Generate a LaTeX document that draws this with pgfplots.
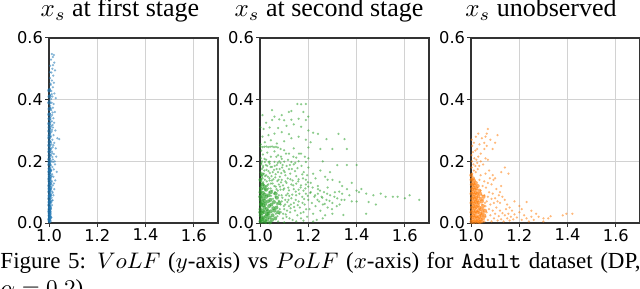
\documentclass[border=0pt]{standalone}
\usepackage{fontspec}
\setmainfont{Liberation Serif}
\newfontfamily\tickfont{DejaVu Sans}
\usepackage{pgfplots}
\pgfplotsset{compat=1.18}
\definecolor{c0}{HTML}{1F77B4}
\definecolor{c1}{HTML}{FF7F0E}
\definecolor{c2}{HTML}{2CA02C}
\pgfplotsset{
  panel/.style={
    scale only axis, width=67.6pt, height=74pt,
    xmin=1.0, xmax=1.7, ymin=0, ymax=0.6,
    xtick={1.0,1.2,1.4,1.6}, xticklabels={1.0,1.2,1.4,1.6},
    ytick={0,0.2,0.4,0.6}, yticklabels={0.0,0.2,0.4,0.6},
    tick pos=left, tick align=outside, major tick length=1.6pt,
    tick style={black!80, line width=0.4pt},
    grid=major, grid style={gray!35, line width=0.4pt},
    axis line style={black!80, line width=0.45pt},
    tick label style={font=\tickfont\fontsize{6.5}{7.5}\selectfont},
    /pgf/number format/assume math mode=true,
    yticklabel style={inner sep=0pt, xshift=-0.6pt},
    xticklabel style={inner sep=0pt, yshift=-0.6pt},
    anchor=south west,
  },
  scpts/.style={only marks, mark=*, color=#1, mark size=0.5pt, mark options={draw opacity=0, fill=#1, fill opacity=0.55}},
  sccore/.style={only marks, mark=*, color=#1, mark size=0.8pt, mark options={draw opacity=0, fill=#1, fill opacity=0.65}},
}
\begin{document}
\begin{tikzpicture}
\useasboundingbox (0,0) rectangle (256pt,115.2pt);
% ---------- panel 1 ----------
\begin{axis}[panel, at={(19.6pt,26pt)}]
\addplot[scpts=c0] coordinates {
(1.012,0.548)(1.02,0.545)(1.016,0.538)(1.008,0.53)(1.022,0.52)(1.005,0.51)(1.014,0.50)(1.025,0.495)(1.01,0.488)(1.018,0.478)(1.004,0.47)(1.012,0.462)(1.02,0.455)(1.007,0.448)(1.016,0.44)
(1.003,0.435)(1.01,0.428)(1.022,0.42)(1.006,0.415)(1.014,0.41)(1.028,0.405)(1.002,0.398)(1.011,0.39)(1.019,0.386)(1.005,0.38)(1.016,0.374)(1.009,0.366)(1.024,0.36)(1.003,0.355)(1.013,0.35)
(1.007,0.345)(1.018,0.34)(1.004,0.335)(1.012,0.33)(1.021,0.325)(1.002,0.32)(1.009,0.315)(1.016,0.31)(1.005,0.305)(1.026,0.3)(1.011,0.296)(1.003,0.29)(1.019,0.285)(1.008,0.28)(1.035,0.275)(1.042,0.272)(1.014,0.27)(1.004,0.265)(1.022,0.26)(1.01,0.255)
(1.002,0.25)(1.015,0.246)(1.028,0.242)(1.006,0.238)(1.012,0.232)(1.003,0.228)(1.02,0.224)(1.008,0.22)(1.03,0.215)(1.004,0.21)(1.016,0.206)(1.01,0.2)(1.002,0.196)(1.025,0.19)(1.007,0.186)(1.014,0.182)(1.003,0.178)(1.02,0.174)(1.009,0.17)(1.032,0.166)(1.005,0.162)(1.013,0.158)(1.002,0.154)
(1.018,0.15)(1.008,0.146)(1.004,0.142)(1.026,0.138)(1.012,0.134)(1.003,0.13)(1.007,0.126)(1.016,0.122)(1.002,0.118)(1.01,0.114)(1.022,0.11)(1.005,0.106)(1.013,0.102)(1.003,0.098)(1.008,0.094)(1.018,0.09)(1.002,0.086)(1.011,0.082)(1.006,0.078)(1.015,0.074)(1.003,0.07)(1.009,0.066)(1.002,0.062)(1.012,0.058)(1.005,0.054)
(1.002,0.05)(1.008,0.046)(1.004,0.042)(1.001,0.038)(1.006,0.034)(1.003,0.03)(1.001,0.026)(1.005,0.022)(1.002,0.018)(1.001,0.014)(1.003,0.01)(1.001,0.006)(1.002,0.003)
(1.006,0.292)(1.015,0.318)(1.009,0.402)(1.017,0.512)(1.004,0.489)(1.013,0.226)(1.006,0.19)(1.017,0.198)(1.01,0.138)(1.015,0.098)(1.007,0.11)(1.02,0.128)(1.024,0.2)(1.018,0.252)(1.008,0.262)
(1.006,0.452)(1.011,0.418)(1.007,0.372)(1.015,0.358)(1.006,0.328)(1.012,0.302)(1.009,0.242)(1.014,0.214)(1.006,0.172)(1.011,0.152)(1.009,0.118)(1.005,0.088)(1.012,0.072)(1.007,0.038)(1.01,0.018)
};
\addplot[sccore=c0] coordinates {
(1.001,0.012)(1.002,0.024)(1.001,0.037)(1.002,0.045)(1.001,0.058)(1.002,0.067)(1.001,0.079)(1.002,0.088)(1.001,0.101)(1.002,0.112)(1.001,0.121)(1.002,0.135)(1.001,0.143)(1.002,0.157)(1.001,0.166)(1.002,0.176)(1.001,0.189)(1.002,0.198)(1.001,0.207)(1.002,0.219)(1.001,0.231)(1.002,0.24)(1.001,0.252)(1.002,0.263)(1.001,0.276)(1.002,0.284)(1.001,0.298)(1.002,0.31)(1.001,0.322)(1.002,0.338)(1.001,0.352)(1.002,0.37)(1.001,0.39)(1.002,0.41)(1.001,0.43)
(1.003,0.006)(1.004,0.018)(1.003,0.03)(1.004,0.05)(1.003,0.07)(1.004,0.09)(1.003,0.108)(1.004,0.128)(1.003,0.15)(1.004,0.17)
};
\end{axis}
% ---------- panel 2 ----------
\begin{axis}[panel, at={(104pt,26pt)}]
\addplot[sccore=c2] coordinates {
(1.002,0.005)(1.006,0.012)(1.01,0.004)(1.015,0.018)(1.003,0.025)(1.02,0.008)(1.008,0.032)(1.025,0.022)(1.012,0.04)(1.002,0.045)(1.03,0.012)(1.018,0.05)(1.005,0.058)(1.035,0.03)(1.022,0.062)(1.01,0.068)(1.04,0.018)(1.028,0.045)(1.003,0.075)(1.015,0.08)(1.045,0.038)(1.033,0.07)(1.007,0.088)(1.02,0.092)(1.05,0.01)(1.038,0.055)(1.012,0.098)(1.026,0.085)(1.055,0.048)(1.043,0.075)(1.002,0.1)(1.017,0.035)(1.009,0.015)(1.024,0.003)(1.032,0.038)(1.004,0.062)(1.047,0.06)(1.052,0.025)(1.06,0.04)(1.058,0.068)(1.036,0.09)(1.014,0.058)(1.029,0.028)(1.001,0.035)(1.001,0.085)(1.063,0.015)(1.068,0.05)(1.07,0.082)(1.041,0.002)(1.019,0.072)
(1.075,0.035)(1.08,0.065)(1.004,0.112)(1.01,0.125)(1.018,0.118)(1.002,0.14)(1.008,0.158)(1.025,0.108)(1.045,0.1)(1.065,0.095)
};
\addplot[scpts=c2] coordinates {
(1.002,0.248)(1.01,0.246)(1.018,0.247)(1.026,0.248)(1.034,0.246)(1.042,0.247)(1.05,0.248)(1.058,0.246)(1.066,0.247)(1.074,0.245)(1.085,0.24)(1.005,0.235)(1.03,0.228)(1.06,0.232)(1.1,0.236)(1.012,0.222)(1.045,0.215)(1.075,0.22)(1.12,0.225)(1.004,0.21)(1.025,0.205)(1.09,0.208)(1.15,0.212)(1.008,0.2)(1.02,0.198)(1.04,0.199)(1.06,0.198)(1.08,0.2)(1.1,0.199)(1.13,0.198)(1.16,0.2)(1.19,0.198)(1.17,0.225)(1.2,0.245)(1.14,0.242)
(1.003,0.255)(1.02,0.262)(1.045,0.268)(1.07,0.258)(1.1,0.265)(1.13,0.275)(1.16,0.28)(1.19,0.27)(1.21,0.262)(1.01,0.28)(1.035,0.285)(1.06,0.29)(1.09,0.295)(1.12,0.288)(1.2,0.3)(1.22,0.293)(1.24,0.289)(1.275,0.272)(1.325,0.289)(1.35,0.272)(1.015,0.305)(1.04,0.31)(1.075,0.308)(1.11,0.315)(1.14,0.32)(1.17,0.312)(1.025,0.325)(1.05,0.334)(1.08,0.336)(1.1,0.333)(1.13,0.335)(1.16,0.338)(1.19,0.334)(1.06,0.345)(1.09,0.35)(1.12,0.36)(1.13,0.363)(1.05,0.366)(1.155,0.386)(1.17,0.385)(1.19,0.386)(1.01,0.35)(1.002,0.31)(1.18,0.36)(1.2,0.345)
(1.002,0.105)(1.01,0.11)(1.022,0.108)(1.035,0.112)(1.05,0.105)(1.068,0.11)(1.085,0.108)(1.1,0.112)(1.12,0.106)(1.14,0.11)(1.16,0.108)(1.18,0.105)(1.005,0.12)(1.015,0.125)(1.03,0.122)(1.045,0.128)(1.06,0.12)(1.078,0.125)(1.095,0.122)(1.11,0.13)(1.13,0.125)(1.15,0.128)(1.17,0.122)(1.2,0.118)(1.003,0.135)(1.02,0.14)(1.04,0.138)(1.055,0.142)(1.072,0.136)(1.09,0.14)(1.115,0.145)(1.135,0.138)(1.16,0.142)(1.19,0.14)(1.008,0.15)(1.025,0.155)(1.048,0.152)(1.065,0.158)(1.082,0.15)(1.105,0.155)(1.125,0.16)(1.15,0.152)(1.175,0.158)(1.002,0.165)(1.018,0.17)(1.035,0.168)(1.058,0.172)(1.075,0.165)(1.098,0.17)(1.12,0.175)(1.145,0.168)(1.012,0.18)(1.03,0.185)(1.05,0.182)(1.07,0.188)(1.092,0.18)(1.11,0.185)(1.14,0.19)(1.005,0.19)(1.04,0.192)(1.085,0.195)(1.2,0.18)(1.22,0.16)(1.25,0.17)(1.21,0.13)(1.24,0.12)(1.23,0.145)(1.27,0.15)(1.3,0.14)(1.28,0.14)(1.33,0.133)(1.29,0.165)(1.32,0.188)(1.36,0.188)(1.4,0.188)(1.25,0.24)(1.3,0.24)(1.36,0.24)(1.26,0.2)(1.2,0.21)
(1.075,0.005)(1.08,0.03)(1.085,0.06)(1.09,0.09)(1.095,0.015)(1.1,0.045)(1.105,0.075)(1.11,0.02)(1.115,0.095)(1.12,0.055)(1.125,0.035)(1.13,0.08)(1.135,0.01)(1.14,0.065)(1.145,0.04)(1.15,0.09)(1.155,0.025)(1.16,0.07)(1.165,0.05)(1.17,0.015)(1.175,0.085)(1.18,0.035)(1.185,0.06)(1.19,0.095)(1.195,0.02)(1.2,0.075)(1.205,0.045)(1.21,0.1)(1.215,0.065)(1.22,0.03)(1.225,0.085)(1.23,0.055)(1.235,0.01)(1.24,0.095)(1.245,0.07)(1.25,0.04)(1.255,0.085)(1.26,0.06)(1.265,0.1)(1.27,0.025)(1.275,0.075)(1.28,0.05)(1.29,0.09)(1.3,0.065)(1.31,0.1)(1.32,0.08)(1.33,0.06)(1.34,0.095)(1.35,0.075)(1.36,0.11)(1.37,0.09)(1.38,0.07)(1.4,0.105)(1.41,0.1)(1.42,0.11)(1.44,0.095)(1.45,0.068)(1.47,0.09)(1.4,0.07)(1.44,0.03)(1.345,0.026)(1.5,0.095)(1.52,0.085)(1.55,0.085)(1.57,0.085)(1.6,0.08)(1.66,0.075)(1.62,0.09)(1.48,0.06)(1.3,0.03)(1.26,0.015)(1.22,0.005)(1.18,0.008)(1.28,0.115)(1.24,0.11)(1.19,0.125)(1.34,0.12)(1.38,0.13)(1.15,0.005)(1.1,0.002)
(1.004,0.142)(1.013,0.132)(1.027,0.118)(1.008,0.175)(1.024,0.188)(1.033,0.15)(1.041,0.162)(1.052,0.128)(1.063,0.148)(1.069,0.175)(1.077,0.14)(1.083,0.118)(1.088,0.162)(1.006,0.195)(1.016,0.16)(1.038,0.1)(1.062,0.1)(1.072,0.06)(1.078,0.09)(1.066,0.03)(1.082,0.045)(1.09,0.07)(1.096,0.03)(1.104,0.06)(1.108,0.09)(1.112,0.04)(1.118,0.075)(1.122,0.015)(1.128,0.06)(1.058,0.095)(1.064,0.085)(1.07,0.065)(1.046,0.088)(1.054,0.078)
(1.003,0.115)(1.007,0.128)(1.011,0.145)(1.016,0.112)(1.021,0.152)(1.028,0.135)(1.034,0.125)(1.039,0.145)(1.044,0.112)(1.049,0.138)(1.006,0.155)(1.013,0.185)(1.019,0.208)(1.027,0.172)(1.036,0.198)(1.044,0.182)(1.053,0.165)(1.061,0.185)(1.068,0.215)(1.074,0.195)(1.081,0.175)(1.087,0.215)(1.094,0.188)(1.102,0.165)(1.108,0.225)(1.116,0.205)(1.124,0.188)(1.132,0.175)(1.138,0.215)(1.146,0.195)(1.155,0.178)(1.162,0.225)(1.172,0.185)(1.181,0.165)(1.186,0.215)(1.195,0.155)(1.065,0.118)(1.073,0.105)(1.087,0.132)(1.097,0.108)(1.106,0.135)(1.117,0.115)(1.126,0.142)(1.138,0.122)(1.148,0.102)(1.158,0.135)(1.168,0.115)(1.178,0.145)(1.188,0.112)(1.198,0.132)(1.208,0.098)(1.218,0.115)(1.228,0.09)(1.238,0.075)(1.248,0.105)(1.258,0.082)(1.268,0.062)(1.278,0.095)(1.288,0.072)(1.298,0.045)(1.308,0.085)(1.318,0.055)(1.328,0.102)(1.338,0.075)(1.072,0.022)(1.078,0.072)(1.086,0.035)(1.093,0.082)(1.099,0.055)(1.107,0.028)(1.113,0.068)(1.121,0.088)(1.127,0.048)(1.134,0.092)(1.141,0.052)(1.148,0.075)(1.156,0.058)(1.163,0.095)(1.169,0.032)(1.176,0.065)(1.183,0.078)(1.191,0.045)(1.198,0.088)
};
\end{axis}
% ---------- panel 3 ----------
\begin{axis}[panel, at={(188.4pt,26pt)}]
\addplot[sccore=c1] coordinates {
(1.002,0.004)(1.006,0.01)(1.012,0.003)(1.018,0.008)(1.024,0.004)(1.03,0.006)(1.036,0.003)(1.003,0.02)(1.009,0.025)(1.015,0.018)(1.021,0.022)(1.027,0.016)(1.034,0.02)(1.04,0.012)(1.002,0.035)(1.008,0.04)(1.014,0.032)(1.02,0.038)(1.026,0.034)(1.032,0.04)(1.038,0.03)(1.004,0.05)(1.01,0.055)(1.016,0.048)(1.022,0.052)(1.028,0.058)(1.035,0.05)(1.002,0.065)(1.008,0.07)(1.014,0.062)(1.02,0.068)(1.026,0.072)(1.032,0.066)(1.004,0.08)(1.01,0.085)(1.016,0.078)(1.022,0.082)(1.03,0.086)(1.002,0.095)(1.008,0.1)(1.014,0.092)(1.02,0.098)(1.026,0.095)(1.004,0.11)(1.01,0.115)(1.016,0.108)(1.022,0.112)(1.003,0.125)(1.009,0.128)(1.015,0.122)(1.002,0.14)(1.008,0.145)(1.001,0.155)(1.045,0.005)(1.05,0.015)(1.044,0.025)(1.048,0.035)(1.042,0.045)
(1.05,0.055)(1.045,0.07)(1.052,0.085)(1.038,0.095)(1.034,0.105)(1.028,0.12)(1.02,0.13)(1.012,0.138)(1.055,0.025)(1.058,0.04)(1.04,0.078)
};
\addplot[scpts=c1] coordinates {
(1.055,0.005)(1.06,0.02)(1.065,0.035)(1.07,0.01)(1.075,0.045)(1.08,0.025)(1.085,0.005)(1.09,0.04)(1.095,0.015)(1.1,0.03)(1.105,0.05)(1.11,0.008)(1.115,0.022)(1.12,0.04)(1.125,0.012)(1.13,0.032)(1.135,0.005)(1.14,0.025)(1.145,0.045)(1.15,0.015)(1.155,0.03)(1.16,0.008)(1.165,0.02)(1.17,0.04)(1.175,0.012)(1.18,0.028)(1.19,0.018)(1.2,0.035)(1.21,0.01)(1.22,0.025)(1.23,0.015)(1.24,0.005)(1.25,0.02)(1.26,0.01)(1.28,0.02)(1.3,0.015)(1.32,0.015)(1.3,0.005)(1.33,0.022)(1.38,0.025)(1.395,0.03)(1.42,0.03)(1.27,0.03)(1.23,0.068)(1.18,0.07)(1.2,0.055)(1.15,0.06)(1.16,0.05)(1.21,0.045)(1.25,0.04)(1.12,0.065)(1.14,0.075)
(1.045,0.06)(1.05,0.075)(1.055,0.09)(1.06,0.055)(1.065,0.07)(1.07,0.085)(1.075,0.1)(1.08,0.06)(1.085,0.078)(1.09,0.095)(1.095,0.065)(1.1,0.08)(1.105,0.11)(1.11,0.07)(1.115,0.09)(1.12,0.1)(1.13,0.085)(1.04,0.105)(1.048,0.12)(1.055,0.135)(1.062,0.115)(1.07,0.13)(1.078,0.145)(1.085,0.125)(1.093,0.14)(1.035,0.14)(1.04,0.155)(1.06,0.16)(1.075,0.17)(1.09,0.155)(1.1,0.145)(1.125,0.165)(1.14,0.18)(1.155,0.16)(1.125,0.12)(1.045,0.09)(1.052,0.045)(1.058,0.065)
(1.005,0.16)(1.012,0.17)(1.02,0.165)(1.028,0.175)(1.003,0.18)(1.01,0.19)(1.018,0.185)(1.026,0.195)(1.034,0.185)(1.004,0.2)(1.014,0.21)(1.022,0.205)(1.03,0.215)(1.04,0.2)(1.05,0.19)(1.06,0.21)(1.07,0.205)(1.002,0.22)(1.008,0.23)(1.018,0.235)(1.04,0.225)(1.055,0.24)(1.065,0.25)(1.09,0.24)(1.005,0.25)(1.012,0.26)(1.03,0.29)(1.07,0.305)(1.11,0.285)(1.055,0.26)(1.045,0.275)(1.02,0.28)(1.035,0.255)(1.08,0.27)(1.065,0.29)(1.06,0.28)(1.1,0.26)(1.003,0.27)(1.025,0.24)
};
\end{axis}
% ---------- titles ----------
\begin{scope}[every node/.style={inner sep=0pt, anchor=base, font=\fontsize{10.4}{12}\selectfont}]
\node at (48pt,108.4pt) {$x_s$ at first stage};
\node at (131.6pt,108.4pt) {$x_s$ at second stage};
\node at (216.4pt,108.4pt) {$x_s$ unobserved};
\end{scope}
% ---------- caption ----------
\begin{scope}[every node/.style={inner sep=0pt, anchor=base west, font=\fontsize{9.2}{11}\selectfont}]
\node at (0,8pt) {\makebox[256pt][s]{Figure 5: $VoLF$ ($y$-axis) vs $PoLF$ ($x$-axis) for {\ttfamily Adult} dataset (DP,}};
\node at (0,-3pt) {$\alpha = 0.2$)};
\end{scope}
\end{tikzpicture}
\end{document}
